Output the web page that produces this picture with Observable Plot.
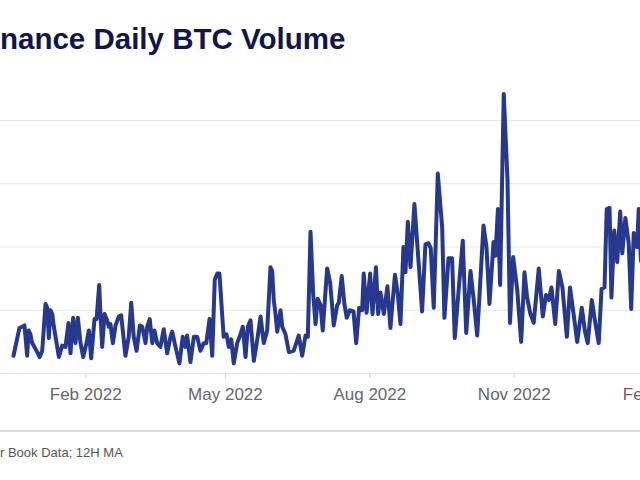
<!DOCTYPE html>
<html><head><meta charset="utf-8">
<script src="https://cdn.jsdelivr.net/npm/d3@7"></script>
<script src="https://cdn.jsdelivr.net/npm/@observablehq/plot@0.6"></script>
<style>
html,body{margin:0;padding:0;background:#fff;}
body{width:640px;height:480px;overflow:hidden;position:relative;font-family:"Liberation Sans",Arial,Helvetica,sans-serif;}
#title{position:absolute;top:24px;left:0;font-size:29.5px;font-weight:bold;color:#0e1551;white-space:nowrap;line-height:30px;}
#chart{position:absolute;left:-70px;top:60px;width:760px;height:353px;}
#chart svg{max-width:none;display:block;}
#rule{position:absolute;left:0;top:430px;width:640px;height:2px;background:#dcdcdc;}
#caption{position:absolute;top:445px;left:0;font-size:13px;color:#555;white-space:nowrap;line-height:15px;}
</style></head><body>
<div id="title"><span id="tpre">Bi</span>nance Daily BTC Volume</div>
<div id="chart"></div>
<div id="rule"></div>
<div id="caption"><span id="cpre">Source: Kaiko Orde</span>r Book Data; 12H MA</div>
<script>
// Series start date; offsets are days since this date (12H MA samples)
const startDate = "2021-12-17";
const dayOffsets = [
0.0,3.8,5.5,7.0,8.7,9.7,10.8,11.9,12.9,15.1,16.7,18.3,20.4,21.5,22.5,23.6,24.7,25.7,26.8,28.9,
31.0,33.1,35.0,36.3,38.0,39.5,41.0,42.7,44.4,46.5,48.0,49.5,51.6,52.9,54.6,55.4,56.5,58.0,59.7,60.7,
61.8,63.3,65.0,67.1,68.6,71.3,73.4,75.0,76.6,78.4,80.5,82.0,84.1,85.2,86.8,88.4,89.8,91.5,93.6,95.7,
97.9,100.0,101.1,103.2,105.7,107.8,109.6,110.6,112.7,114.9,117.0,119.1,121.2,122.8,124.9,126.6,128.2,129.8,131.2,132.9,
133.9,135.7,137.1,138.7,140.3,142.5,144.6,146.1,147.8,149.3,151.0,153.1,155.2,157.4,159.4,161.6,163.7,164.8,165.8,166.9,
168.0,170.1,171.2,173.3,175.4,178.5,181.7,183.9,186.0,187.5,189.2,190.9,192.4,193.8,195.6,197.0,199.8,201.7,204.0,206.2,
207.2,209.1,210.8,212.3,214.2,216.6,218.3,220.2,222.1,223.1,224.9,227.2,228.7,230.9,232.3,233.8,235.9,238.2,240.1,243.0,
244.8,246.5,248.4,249.7,251.2,252.9,255.4,257.3,260.3,262.4,264.4,265.8,267.7,270.3,273.1,274.5,277.1,279.4,281.1,283.7,
286.2,288.4,291.1,293.2,295.4,299.4,301.3,303.2,305.8,307.0,308.6,310.0,312.3,314.7,316.3,318.3,320.9,323.4,325.5,327.2,
329.3,331.4,334.6,337.2,339.2,341.0,342.7,345.1,347.4,349.7,352.5,354.5,356.9,359.1,362.0,364.1,365.8,368.4,370.1,372.8,
374.6,376.5,377.9,379.7,380.9,382.7,384.6,386.5,387.8,389.8,391.9,393.5,395.1,397.2,398.3,399.7,401.3,403.2
];
// Volume (thousand BTC)
const volumes = [
14,36,37,38,14,34,31,24,22,17,13,18,55,52,28,50,47,37,29,13,
22,21,40,16,44,24,44,24,13,24,34,12,43,43,70,47,21,47,42,37,
39,24,38,45,46,14,29,56,29,18,38,37,24,37,43,24,34,24,21,35,
16,29,33,21,8,29,21,30,9,29,29,18,24,24,43,14,74,79,79,47,
29,31,21,27,8,24,31,37,13,37,42,10,26,45,24,34,84,81,58,47,
33,50,37,31,17,18,30,14,30,29,112,63,39,59,54,34,83,72,38,54,
56,77,55,44,50,49,24,52,50,79,48,79,47,84,47,64,47,69,36,78,
63,39,100,80,120,84,134,101,49,102,103,99,52,158,115,44,91,91,28,68,
105,32,81,58,30,117,100,55,104,93,130,70,221,153,40,92,66,25,80,60,
47,40,83,45,62,58,68,39,81,68,29,68,46,25,52,33,24,58,44,24,
67,68,130,131,60,113,88,128,95,123,103,51,111,100,130,89,113,100
];
const xTickDates = ["2022-02-01","2022-05-01","2022-08-01","2022-11-01","2023-02-01"];
const yTicks = [0, 50, 100, 150, 200];

const DAY = 864e5;
const t0 = new Date(startDate + "T00:00:00Z").getTime();
const data = dayOffsets.map((d, i) => ({date: new Date(t0 + d * DAY), volume: volumes[i]}));
const ticks = xTickDates.map(s => new Date(s + "T00:00:00Z"));

const chart = Plot.plot({
  width: 760,
  height: 353,
  marginLeft: 60,
  marginRight: 10,
  marginTop: 10,
  marginBottom: 40,
  style: {fontFamily: '"Liberation Sans", Arial, Helvetica, sans-serif', background: "transparent", overflow: "visible", maxWidth: "none"},
  x: {type: "utc", domain: [new Date(t0 - 14.65 * DAY), new Date(t0 + 424.9 * DAY)]},
  y: {domain: [0, 239.5], axis: null},
  marks: [
    Plot.gridY(yTicks, {stroke: "#e6e6e6", strokeOpacity: 1, strokeWidth: 1}),
    Plot.axisX({ticks: ticks, tickFormat: d3.utcFormat("%b %Y"), tickSize: 5, tickPadding: 9,
      stroke: "#d0d0d0", fill: "#666", fontSize: 17, label: null}),
    Plot.line(data, {x: "date", y: "volume", stroke: "#26398f", strokeWidth: 4,
      strokeLinejoin: "round", strokeLinecap: "round"})
  ]
});
document.getElementById("chart").appendChild(chart);

// crop the leading characters off the left edge as in the reference
const t = document.getElementById("title");
t.style.left = (-document.getElementById("tpre").getBoundingClientRect().width) + "px";
const c = document.getElementById("caption");
c.style.left = (-document.getElementById("cpre").getBoundingClientRect().width) + "px";
</script>
</body></html>
